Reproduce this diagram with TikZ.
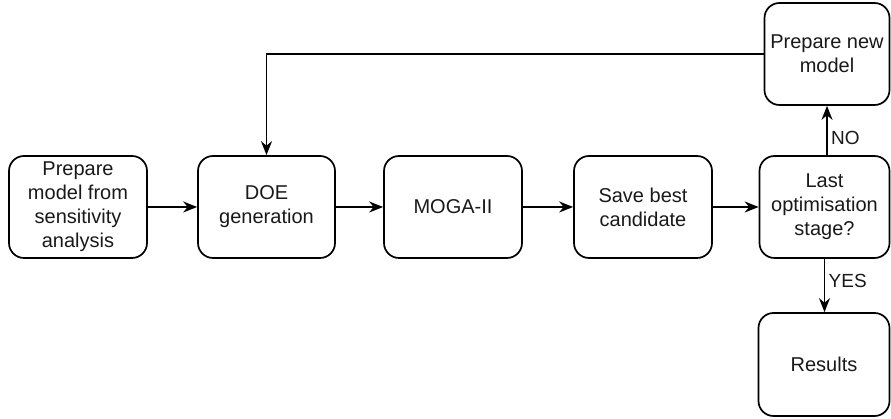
\documentclass[tikz,border=0pt]{standalone}
\usepackage{fontspec}
\setmainfont{Liberation Sans}
\usetikzlibrary{arrows.meta}

\begin{document}
\begin{tikzpicture}[x=1pt, y=1pt,
        block/.style={draw, line width=1.7pt, rounded corners=15pt, align=center,
            inner sep=0pt, font=\fontsize{20}{24}\selectfont, text=black!90},
        flow/.style={-{Stealth[length=14pt, width=11pt]}, line width=1.7pt},
        lbl/.style={right, font=\fontsize{19}{22}\selectfont, text=black!90}]
            \useasboundingbox (0, 0) rectangle (891, 419);
            \node[block, minimum width=138, minimum height=102] (prep) at (78, 212) {Prepare\\model from\\sensitivity\\analysis};
            \node[block, minimum width=137, minimum height=102] (doe) at (266.5, 212) {DOE\\generation};
            \node[block, minimum width=138, minimum height=102] (moga) at (453, 212) {MOGA-II};
            \node[block, minimum width=138, minimum height=102] (save) at (643, 212) {Save best\\candidate};
            \node[block, minimum width=130, minimum height=102] (last) at (824.5, 212) {Last\\optimisation\\stage?};
            \node[block, minimum width=125, minimum height=102] (new) at (827, 365) {Prepare new\\model};
            \node[block, minimum width=131, minimum height=103] (res) at (824, 54.5) {Results};
            \draw[flow] (prep) -- (doe);
            \draw[flow] (doe) -- (moga);
            \draw[flow] (moga) -- (save);
            \draw[flow] (save) -- (last);
            \draw[flow] (last.north -| new.south) -- (new.south) node[pos=0.35, lbl] {NO};
            \draw[flow] (last.south) -- (last.south |- res.north) node[pos=0.42, lbl] {YES};
            \draw[flow] (new.west) -- (new.west -| doe.north) -- (doe.north);
        \end{tikzpicture}
\end{document}
